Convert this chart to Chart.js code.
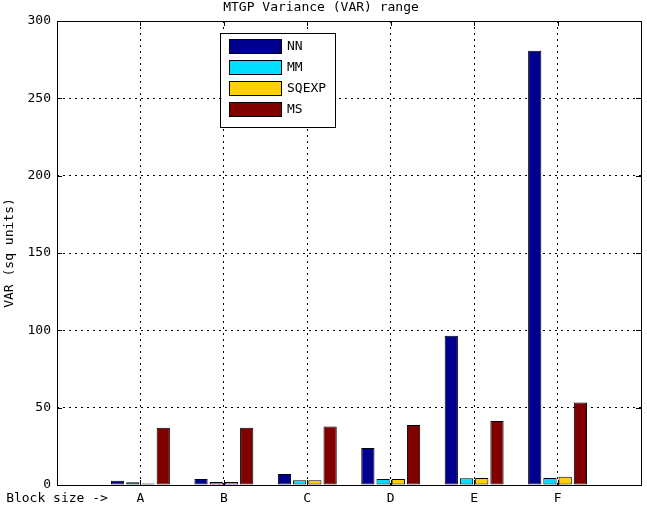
<!DOCTYPE html>
<html>
<head>
<meta charset="utf-8">
<title>MTGP Variance (VAR) range</title>
<script src="https://cdn.jsdelivr.net/npm/chart.js@4/dist/chart.umd.min.js"></script>
<style>
    html, body { margin: 0; padding: 0; background: #fff; }
    #wrap { width: 647px; height: 505px; position: relative; }
</style>
</head>
<body>
<div id="wrap"><canvas id="varChart"></canvas></div>
<script>
'use strict';

// Block sizes on the x axis (first slot holds the axis caption, last is empty)
const blockSizes = ['A', 'B', 'C', 'D', 'E', 'F'];
const seriesNames = ['NN', 'MM', 'SQEXP', 'MS'];
const seriesColors = ['#00008f', '#00dfff', '#ffcf00', '#800000'];

// VAR values (sq units)
const nnValues = [2.8, 3.8, 7.1, 23.9, 96.5, 280.7];
const mmValues = [1.8, 1.9, 3.0, 3.9, 4.4, 4.5];
const sqexpValues = [1.0, 1.9, 3.0, 3.9, 4.5, 5.4];
const msValues = [37.0, 37.0, 37.9, 38.8, 41.4, 53.4];

const yTicks = [0, 50, 100, 150, 200, 250, 300];

const labels = ['Block size ->'].concat(blockSizes, ['']);
const pad = arr => [null].concat(arr, [null]);

const datasets = [nnValues, mmValues, sqexpValues, msValues].map(function (vals, i) {
    return {
        label: seriesNames[i],
        data: pad(vals),
        backgroundColor: seriesColors[i],
        borderColor: '#000',
        borderWidth: 1,
        borderSkipped: false,
        categoryPercentage: 0.73,
        barPercentage: 0.87
    };
});

// Box around the axes, inward tick marks, and the legend inside the plot
const matlabAxes = {
    id: 'matlabAxes',
    afterDraw: function (chart) {
        const ctx = chart.ctx;
        const a = chart.chartArea;
        const x = chart.scales.x;
        const y = chart.scales.y;
        ctx.save();
        ctx.strokeStyle = '#000';
        ctx.lineWidth = 1;
        ctx.setLineDash([]);
        ctx.strokeRect(Math.round(a.left) + 0.5, Math.round(a.top) + 0.5,
            Math.round(a.right - a.left), Math.round(a.bottom - a.top));

        ctx.beginPath();
        for (let i = 1; i <= blockSizes.length; i++) {
            const px = Math.round(x.getPixelForValue(i)) + 0.5;
            ctx.moveTo(px, a.bottom); ctx.lineTo(px, a.bottom - 5);
            ctx.moveTo(px, a.top); ctx.lineTo(px, a.top + 5);
        }
        yTicks.slice(1, -1).forEach(function (v) {
            const py = Math.round(y.getPixelForValue(v)) + 0.5;
            ctx.moveTo(a.left, py); ctx.lineTo(a.left + 5, py);
            ctx.moveTo(a.right, py); ctx.lineTo(a.right - 5, py);
        });
        ctx.stroke();

        // legend box
        const lx = 220, ly = 33, lw = 115, lh = 94;
        ctx.fillStyle = '#fff';
        ctx.fillRect(lx, ly, lw, lh);
        ctx.strokeRect(lx + 0.5, ly + 0.5, lw, lh);
        ctx.font = "13px 'DejaVu Sans Mono', monospace";
        ctx.textBaseline = 'middle';
        chart.data.datasets.forEach(function (ds, i) {
            const ry = ly + 6 + i * 21;
            ctx.fillStyle = ds.backgroundColor;
            ctx.fillRect(lx + 9, ry, 52, 14);
            ctx.strokeRect(lx + 9.5, ry + 0.5, 52, 14);
            ctx.fillStyle = '#000';
            ctx.fillText(ds.label, lx + 67, ry + 8);
        });
        ctx.restore();
    }
};

Chart.defaults.font.family = "'DejaVu Sans Mono', monospace";
Chart.defaults.font.size = 13;
Chart.defaults.color = '#000';

new Chart(document.getElementById('varChart').getContext('2d'), {
    type: 'bar',
    data: { labels: labels, datasets: datasets },
    options: {
        responsive: true,
        maintainAspectRatio: false,
        animation: false,
        layout: { padding: { left: 0, right: 5, top: 0, bottom: 0 } },
        plugins: {
            legend: { display: false },
            tooltip: { enabled: false },
            title: {
                display: true,
                text: 'MTGP Variance (VAR) range',
                font: { size: 13, weight: 'normal' },
                color: '#000',
                padding: { top: 0, bottom: 5.4 }
            }
        },
        scales: {
            x: {
                offset: false,
                grid: {
                    offset: false,
                    color: '#000',
                    drawTicks: false
                },
                border: { display: false, dash: [2, 4] },
                ticks: { autoSkip: false, maxRotation: 0, padding: 6 },
                afterFit: function (s) { s.height = 20; }
            },
            y: {
                min: 0,
                max: 300,
                afterBuildTicks: function (s) { s.ticks = yTicks.map(v => ({ value: v })); },
                grid: { color: '#000', drawTicks: false },
                border: { display: false, dash: [2, 4] },
                ticks: { padding: 6 },
                title: {
                    display: true,
                    text: 'VAR (sq units)',
                    font: { size: 13 },
                    padding: { top: 2, bottom: 4 }
                },
                afterFit: function (s) { s.width = 57; }
            }
        }
    },
    plugins: [matlabAxes]
});
</script>
</body>
</html>
